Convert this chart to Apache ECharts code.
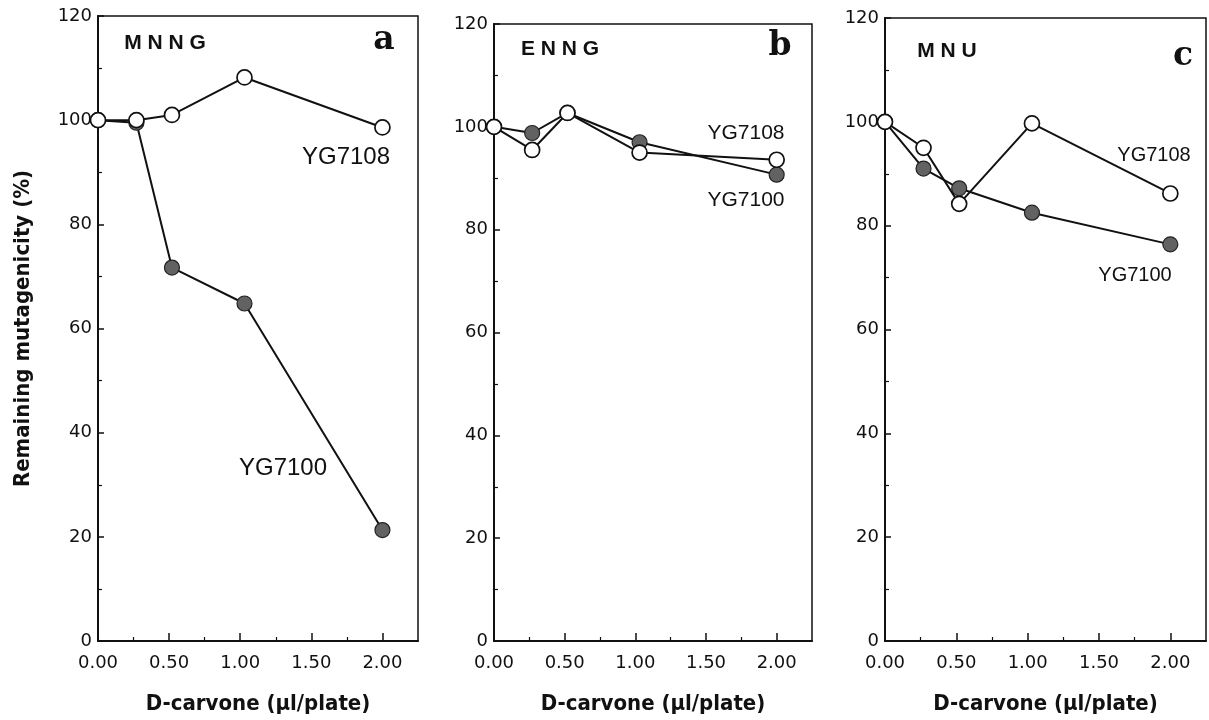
<!DOCTYPE html>
<html><head><meta charset="utf-8">
<script src="https://cdn.jsdelivr.net/npm/echarts@6/dist/echarts.min.js"></script>
<style>html,body{margin:0;padding:0;background:#fff}#c{width:1209px;height:720px}</style>
</head><body><div id="c"></div>
<script>
// ---- data ----
const doses = [0, 0.27, 0.52, 1.03, 2.0];
const xTickValues = [0, 0.5, 1.0, 1.5, 2.0];
const xMinorTickValues = [0.25, 0.75, 1.25, 1.75];
const yTicks = [0, 20, 40, 60, 80, 100, 120];
const panelNames = ['MNNG', 'ENNG', 'MNU'];
const panelLetters = ['a', 'b', 'c'];
const strainNames = ['YG7108', 'YG7100'];
const mnngYG7108 = [100, 100, 101, 108.2, 98.6];
const mnngYG7100 = [100, 99.5, 71.7, 64.8, 21.3];
const enngYG7108 = [100, 95.5, 102.7, 95, 93.6];
const enngYG7100 = [100, 98.8, 102.7, 97, 90.7];
const mnuYG7108 = [100, 95, 84.2, 99.7, 86.2];
const mnuYG7100 = [100, 91, 87.2, 82.5, 76.4];

const openData = [mnngYG7108, enngYG7108, mnuYG7108];
const filledData = [mnngYG7100, enngYG7100, mnuYG7100];

// ---- layout ----
const grids = [
  {left: 98, top: 16, width: 320, height: 625},
  {left: 494, top: 24, width: 318, height: 618},
  {left: 885, top: 18, width: 321, height: 625}
];
const tickFont = {fontFamily: 'DejaVu Sans', fontSize: 18, color: '#111'};
const titleFont = "'DejaVu Sans Condensed','Liberation Sans Narrow','DejaVu Sans',sans-serif";

const option = {
  backgroundColor: '#fff',
  animation: false,
  grid: grids.map(g => Object.assign({show: true, borderColor: '#111', borderWidth: 1.5, backgroundColor: 'transparent', containLabel: false}, g)),
  xAxis: [],
  yAxis: [],
  series: [],
  graphic: []
};

for (let i = 0; i < 3; i++) {
  option.xAxis.push({
    type: 'value', gridIndex: i, min: 0, max: 2.25, position: 'bottom',
    name: 'D-carvone (\u00b5l/plate)', nameLocation: 'middle', nameGap: 52,
    nameTextStyle: {fontFamily: titleFont, fontWeight: 'bold', fontSize: 22, color: '#111'},
    axisLine: {show: true, lineStyle: {color: '#111', width: 2}},
    axisTick: {show: true, inside: true, length: 8, lineStyle: {color: '#111', width: 1.5}, customValues: xTickValues},
    axisLabel: Object.assign({show: true, margin: 13, customValues: xTickValues, formatter: v => v.toFixed(2)}, tickFont),
    splitLine: {show: false}
  });
  option.xAxis.push({
    type: 'value', gridIndex: i, min: 0, max: 2.25, position: 'bottom',
    axisLine: {show: false},
    axisTick: {show: true, inside: true, length: 4, lineStyle: {color: '#111', width: 1.2}, customValues: xMinorTickValues},
    axisLabel: {show: false},
    splitLine: {show: false}
  });
  option.yAxis.push({
    type: 'value', gridIndex: i, min: 0, max: 120, interval: 20,
    name: i === 0 ? 'Remaining mutagenicity (%)' : '', nameLocation: 'middle', nameGap: 64,
    nameTextStyle: {fontFamily: titleFont, fontWeight: 'bold', fontSize: 22, color: '#111'},
    axisLine: {show: true, lineStyle: {color: '#111', width: 2}},
    axisTick: {show: true, inside: true, length: 6, lineStyle: {color: '#111', width: 1.5}},
    minorTick: {show: true, splitNumber: 2, length: 4, lineStyle: {color: '#111', width: 1.2}},
    axisLabel: Object.assign({show: true, margin: 6}, tickFont),
    splitLine: {show: false}
  });
  const xi = i * 2;
  option.series.push({
    type: 'line', name: strainNames[1], xAxisIndex: xi, yAxisIndex: i,
    data: doses.map((d, k) => [d, filledData[i][k]]),
    symbol: 'circle', symbolSize: 15,
    itemStyle: {color: '#626262', borderColor: '#222', borderWidth: 1.2},
    lineStyle: {color: '#111', width: 2}, z: 2
  });
  option.series.push({
    type: 'line', name: strainNames[0], xAxisIndex: xi, yAxisIndex: i,
    data: doses.map((d, k) => [d, openData[i][k]]),
    symbol: 'circle', symbolSize: 15,
    itemStyle: {color: '#fff', borderColor: '#111', borderWidth: 1.7},
    lineStyle: {color: '#111', width: 2}, z: 3
  });
}

// panel tags and strain labels (text)
const tagPos = [[165, 43], [560, 49], [947, 51]];
const letterPos = [[384, 40], [780, 46], [1183, 56]];
const strainLabelPos = [
  [[346, 157, 24], [283, 468, 24]],
  [[746, 133, 21], [746, 200, 21]],
  [[1154, 155, 20], [1135, 275, 20]]
];
for (let i = 0; i < 3; i++) {
  option.graphic.push({
    type: 'text', x: tagPos[i][0], y: tagPos[i][1], z: 10,
    style: {text: panelNames[i].split('').join(' '), fontFamily: 'Liberation Sans', fontWeight: 'bold', fontSize: 21, fill: '#111', align: 'center', verticalAlign: 'middle'}
  });
  option.graphic.push({
    type: 'text', x: letterPos[i][0], y: letterPos[i][1], z: 10,
    style: {text: panelLetters[i], fontFamily: 'DejaVu Serif', fontWeight: 'bold', fontSize: 33, fill: '#111', align: 'center', verticalAlign: 'middle'}
  });
  for (let s = 0; s < 2; s++) {
    const p = strainLabelPos[i][s];
    option.graphic.push({
      type: 'text', x: p[0], y: p[1], z: 10,
      style: {text: strainNames[s], fontFamily: 'Liberation Sans', fontSize: p[2], fill: '#111', align: 'center', verticalAlign: 'middle'}
    });
  }
}

const chart = echarts.init(document.getElementById('c'), null, {renderer: 'canvas'});
chart.setOption(option);
</script>
</body></html>
